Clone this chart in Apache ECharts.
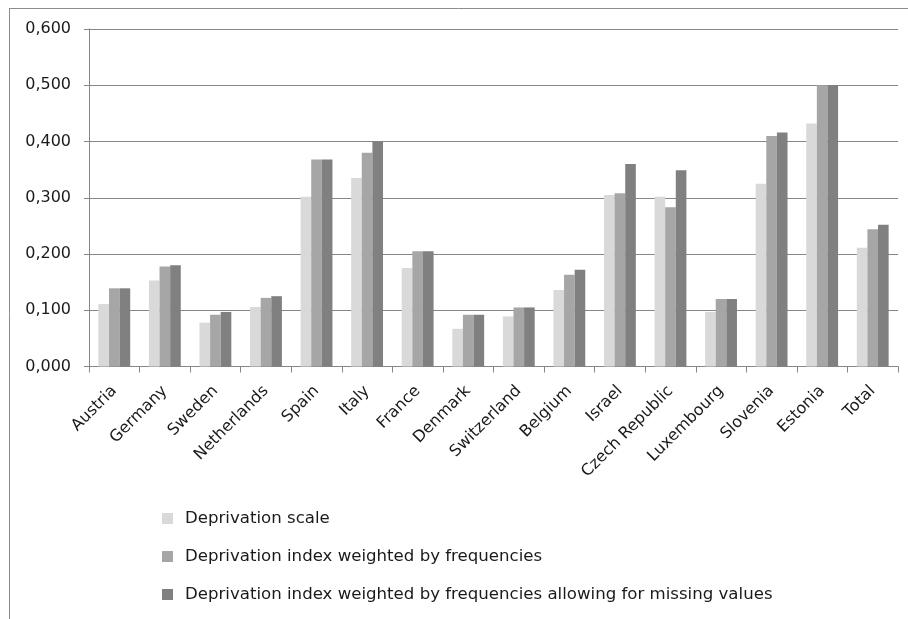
<!DOCTYPE html>
<html>
<head>
<meta charset="utf-8">
<style>
  html, body { margin: 0; padding: 0; background: #ffffff; }
  #chart { width: 908px; height: 619px; }
</style>
<script src="https://cdn.jsdelivr.net/npm/echarts@6/dist/echarts.min.js"></script>
</head>
<body>
<div id="chart"></div>
<script>
// Countries on the category axis
const countries = ['Austria', 'Germany', 'Sweden', 'Netherlands', 'Spain', 'Italy', 'France',
  'Denmark', 'Switzerland', 'Belgium', 'Israel', 'Czech Republic', 'Luxembourg',
  'Slovenia', 'Estonia', 'Total'];

// Series names
const seriesNames = [
  'Deprivation scale',
  'Deprivation index weighted by frequencies',
  'Deprivation index weighted by frequencies allowing for missing values'
];

// Values per country
const deprivationScale = [0.111, 0.153, 0.078, 0.106, 0.302, 0.335, 0.175, 0.067, 0.089, 0.136,
  0.305, 0.302, 0.097, 0.325, 0.432, 0.211];
const weightedByFrequencies = [0.139, 0.178, 0.092, 0.122, 0.368, 0.380, 0.205, 0.092, 0.105, 0.163,
  0.308, 0.283, 0.120, 0.410, 0.500, 0.244];
const weightedAllowingMissing = [0.139, 0.180, 0.097, 0.125, 0.368, 0.400, 0.205, 0.092, 0.105, 0.172,
  0.360, 0.349, 0.120, 0.416, 0.500, 0.252];

// Value axis range and step
const yMin = 0;
const yMax = 0.6;
const yStep = 0.1;

const seriesValues = [deprivationScale, weightedByFrequencies, weightedAllowingMissing];
const seriesColors = ['#d9d9d9', '#a6a6a6', '#808080'];

const FONT = 'DejaVu Sans';
const chart = echarts.init(document.getElementById('chart'), null, { renderer: 'canvas' });

chart.setOption({
  backgroundColor: '#ffffff',
  animation: false,
  textStyle: { fontFamily: FONT },
  grid: { left: 89, right: 10, top: 29, bottom: 252.5, containLabel: false },
  legend: {
    orient: 'vertical',
    left: 162,
    top: 510,
    padding: 0,
    itemWidth: 11,
    itemHeight: 11,
    itemGap: 21,
    icon: 'rect',
    data: seriesNames,
    textStyle: { fontFamily: FONT, fontSize: 16.6, color: '#1a1a1a', padding: [0, 0, 0, 7] }
  },
  xAxis: {
    type: 'category',
    data: countries,
    boundaryGap: true,
    axisLine: { show: true, lineStyle: { color: '#868686', width: 1 } },
    axisTick: { show: true, length: 6, alignWithLabel: false, lineStyle: { color: '#868686' } },
    axisLabel: {
      rotate: 45,
      interval: 0,
      margin: 22,
      fontFamily: FONT,
      fontSize: 16,
      color: '#1a1a1a'
    },
    splitLine: { show: false }
  },
  yAxis: {
    type: 'value',
    min: yMin,
    max: yMax,
    interval: yStep,
    axisLine: { show: true, lineStyle: { color: '#868686', width: 1 } },
    axisTick: { show: true, length: 5, inside: false, lineStyle: { color: '#868686' } },
    axisLabel: {
      margin: 18,
      fontFamily: FONT,
      fontSize: 16,
      color: '#1a1a1a',
      padding: [4, 0, 0, 0],
      formatter: v => v.toFixed(3).replace('.', ',')
    },
    splitLine: { show: true, lineStyle: { color: '#868686', width: 1.2 } }
  },
  series: seriesNames.map((name, i) => ({
    name: name,
    type: 'bar',
    data: seriesValues[i],
    barGap: '0%',
    barCategoryGap: '37%',
    itemStyle: { color: seriesColors[i] }
  })),
  graphic: [
    // outer frame: top and left edges
    { type: 'line', shape: { x1: 9, y1: 8.5, x2: 908, y2: 8.5 }, style: { stroke: '#8c8c8c', lineWidth: 1 }, silent: true },
    { type: 'line', shape: { x1: 9.5, y1: 8, x2: 9.5, y2: 619 }, style: { stroke: '#8c8c8c', lineWidth: 1 }, silent: true }
  ]
});
</script>
</body>
</html>
